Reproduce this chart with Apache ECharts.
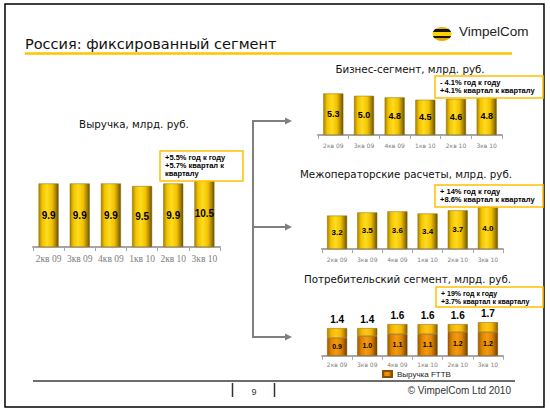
<!DOCTYPE html>
<html><head><meta charset="utf-8">
<script src="https://cdn.jsdelivr.net/npm/echarts@6/dist/echarts.min.js"></script>
<style>html,body{margin:0;padding:0;background:#fff}#c{width:550px;height:412px}</style>
</head><body><div id="c"></div>
<script>
const categories = ['2кв 09', '3кв 09', '4кв 09', '1кв 10', '2кв 10', '3кв 10'];
const revenue = [9.9, 9.9, 9.9, 9.5, 9.9, 10.5];
const business = [5.3, 5.0, 4.8, 4.5, 4.6, 4.8];
const interop = [3.2, 3.5, 3.6, 3.4, 3.7, 4.0];
const consumerTotal = [1.4, 1.4, 1.6, 1.6, 1.6, 1.7];
const fttb = [0.9, 1.0, 1.1, 1.1, 1.2, 1.2];
const consumerOther = consumerTotal.map((t, k) => +(t - fttb[k]).toFixed(2));

const slideTitle = 'Россия: фиксированный сегмент';
const chartTitles = ['Выручка, млрд. руб.', 'Бизнес-сегмент, млрд. руб.', 'Межоператорские расчеты, млрд. руб.', 'Потребительский сегмент, млрд. руб.'];
const callouts = [
  '+5.5% год к году\n+5.7% квартал к\nкварталу',
  '- 4.1% год к году\n+4.1% квартал к кварталу',
  '+ 14% год к году\n+8.6% квартал к кварталу',
  '+ 19% год к году\n+3.7% квартал к кварталу'
];

function grad(stops) {
  return {type: 'linear', x: 0, y: 0, x2: 1, y2: 0, colorStops: stops.map(s => ({offset: s[0], color: s[1]}))};
}
const gold = grad([[0, '#A88400'], [0.18, '#F2C400'], [0.42, '#FFDB1F'], [0.68, '#F2C200'], [0.88, '#A47F00'], [1, '#6A5000']]);
const orange = grad([[0, '#9A5A00'], [0.2, '#E08400'], [0.45, '#F29A10'], [0.7, '#E08600'], [0.9, '#9A5800'], [1, '#6A3C00']]);
const amber = grad([[0, '#B88600'], [0.2, '#F5B500'], [0.45, '#FFC61A'], [0.7, '#F5B800'], [0.9, '#B08000'], [1, '#7A5800']]);

const grids = [
  {left: 33, width: 187, top: 170, height: 77},
  {left: 318, width: 184, top: 88, height: 47},
  {left: 322, width: 181, top: 202, height: 47},
  {left: 322, width: 181, top: 316.3, height: 39.4}
];
const yMax = [12, 6, 4.5, 2];
const catFont = [
  {fontFamily: 'Liberation Serif', fontSize: 9.5, margin: 7},
  {fontFamily: 'DejaVu Sans', fontSize: 6, margin: 7},
  {fontFamily: 'DejaVu Sans', fontSize: 6, margin: 7},
  {fontFamily: 'DejaVu Sans', fontSize: 6, margin: 6}
];

const xAxes = grids.map((g, i) => ({
  type: 'category', gridIndex: i, data: categories,
  axisLine: {lineStyle: {color: '#A6A6A6', width: 2}},
  axisTick: {show: true, length: 4, lineStyle: {color: '#A6A6A6', width: 1}},
  axisLabel: {interval: 0, color: '#808080', fontFamily: catFont[i].fontFamily, fontSize: catFont[i].fontSize, margin: catFont[i].margin}
}));
const yAxes = grids.map((g, i) => ({type: 'value', gridIndex: i, min: 0, max: yMax[i], show: false}));

const inLabel = (fs) => ({show: true, position: 'inside', color: '#000', fontWeight: 'bold', fontFamily: 'Liberation Sans', fontSize: fs, formatter: p => p.value.toFixed(1)});
const barStyle = (c) => ({color: c, borderColor: '#8A6C00', borderWidth: 0.5});

const series = [
  {name: 'Выручка', type: 'bar', xAxisIndex: 0, yAxisIndex: 0, data: revenue, barWidth: 20, itemStyle: barStyle(gold), label: inLabel(10)},
  {name: 'Бизнес-сегмент', type: 'bar', xAxisIndex: 1, yAxisIndex: 1, data: business, barWidth: 20, itemStyle: barStyle(gold), label: inLabel(9)},
  {name: 'Межоператорские расчеты', type: 'bar', xAxisIndex: 2, yAxisIndex: 2, data: interop, barWidth: 20, itemStyle: barStyle(gold), label: inLabel(8)},
  {name: 'Выручка FTTB', type: 'bar', stack: 'cons', xAxisIndex: 3, yAxisIndex: 3, data: fttb, barWidth: 20, itemStyle: {color: orange, borderColor: '#8A5000', borderWidth: 0.5}, label: inLabel(7)},
  {name: 'Прочее', type: 'bar', stack: 'cons', xAxisIndex: 3, yAxisIndex: 3, data: consumerOther, barWidth: 20, itemStyle: {color: amber, borderColor: '#8A6000', borderWidth: 0.5},
   label: {show: true, position: 'top', distance: 4, color: '#000', fontWeight: 'bold', fontFamily: 'Liberation Sans', fontSize: 10, formatter: p => consumerTotal[p.dataIndex].toFixed(1)}}
];

const Z = 100;
const txt = (x, y, text, o) => Object.assign({type: 'text', z: Z, x: x, y: y, style: Object.assign({text: text, fill: '#000', fontFamily: 'Liberation Sans', fontSize: 11, textVerticalAlign: 'middle'}, o || {})});
function callout(x, y, w, h, text, fs, lh) {
  return {type: 'group', z: Z, children: [
    {type: 'rect', z: Z, shape: {x: x, y: y, width: w, height: h}, style: {fill: '#fff', stroke: '#FFC000', lineWidth: 1.5}},
    {type: 'text', z: Z + 1, x: x + 5, y: y + 3, style: {text: text, fill: '#000', fontFamily: 'Liberation Sans', fontWeight: 'bold', fontSize: fs, lineHeight: lh, textVerticalAlign: 'top'}}
  ]};
}
const gray = '#7F7F7F';
const line = (x1, y1, x2, y2, c, w) => ({type: 'line', z: Z, shape: {x1: x1, y1: y1, x2: x2, y2: y2}, style: {stroke: c, lineWidth: w}});
const arrowHead = (x, y) => ({type: 'polygon', z: Z, shape: {points: [[x - 7, y - 3.5], [x, y], [x - 7, y + 3.5]]}, style: {fill: gray}});
const subTitle = {textAlign: 'center', fontFamily: 'DejaVu Sans', fontSize: 10.3, fill: '#111'};

const graphic = [
  {type: 'rect', z: Z, shape: {x: 5, y: 4, width: 539, height: 403}, style: {fill: 'none', stroke: '#000', lineWidth: 1.5}},
  txt(25, 43.5, slideTitle, {fontFamily: 'DejaVu Sans', fontSize: 14.5, fill: '#111'}),
  line(25, 53.5, 512, 53.5, '#FFC400', 2.5),
  {type: 'ellipse', z: Z, shape: {cx: 442, cy: 34, rx: 9.5, ry: 7},
   style: {fill: {type: 'linear', x: 0, y: 0, x2: 0, y2: 1, colorStops: [
     {offset: 0, color: '#F0B000'}, {offset: 0.14, color: '#F0B000'}, {offset: 0.14, color: '#151515'}, {offset: 0.36, color: '#151515'},
     {offset: 0.36, color: '#FFD000'}, {offset: 0.62, color: '#FFD000'}, {offset: 0.62, color: '#151515'}, {offset: 0.82, color: '#151515'},
     {offset: 0.82, color: '#E8A800'}, {offset: 1, color: '#E8A800'}]}}},
  txt(459, 31, 'VimpelCom', {fontSize: 13.5, fill: '#222'}),
  txt(134, 123.5, chartTitles[0], subTitle),
  txt(410, 68.5, chartTitles[1], subTitle),
  txt(406, 174, chartTitles[2], subTitle),
  txt(407.5, 278.5, chartTitles[3], subTitle),
  callout(160, 151, 83, 30, callouts[0], 7.5, 7.8),
  callout(435, 76, 108, 22, callouts[1], 7.5, 7.6),
  callout(435, 185, 108, 22, callouts[2], 7.5, 7.6),
  callout(436, 287, 107, 20, callouts[3], 7, 7.6),
  line(253, 121, 253, 337, gray, 2),
  line(252, 121, 286, 121, gray, 2), arrowHead(292, 121),
  line(253, 227, 286, 227, gray, 2), arrowHead(292, 227),
  line(252, 337, 286, 337, gray, 2), arrowHead(292, 337),
  line(33, 381, 515, 381, '#6D6D6D', 2),
  line(232.5, 383, 232.5, 397, '#333', 1.5),
  line(274.5, 383, 274.5, 397, '#333', 1.5),
  txt(254, 391.5, '9', {textAlign: 'center', fontSize: 9, fill: '#333'}),
  txt(511, 390, '© VimpelCom Ltd 2010', {textAlign: 'right', fontSize: 10, fill: '#333'})
];

const chart = echarts.init(document.getElementById('c'), null, {renderer: 'svg'});
chart.setOption({
  animation: false,
  backgroundColor: '#fff',
  grid: grids,
  xAxis: xAxes,
  yAxis: yAxes,
  series: series,
  legend: {data: ['Выручка FTTB'], icon: 'rect', left: 382, top: 370, padding: 0, itemWidth: 9, itemHeight: 6, itemGap: 3,
    textStyle: {fontFamily: 'Liberation Sans', fontSize: 8, color: '#222'}},
  graphic: graphic
});
</script></body></html>
